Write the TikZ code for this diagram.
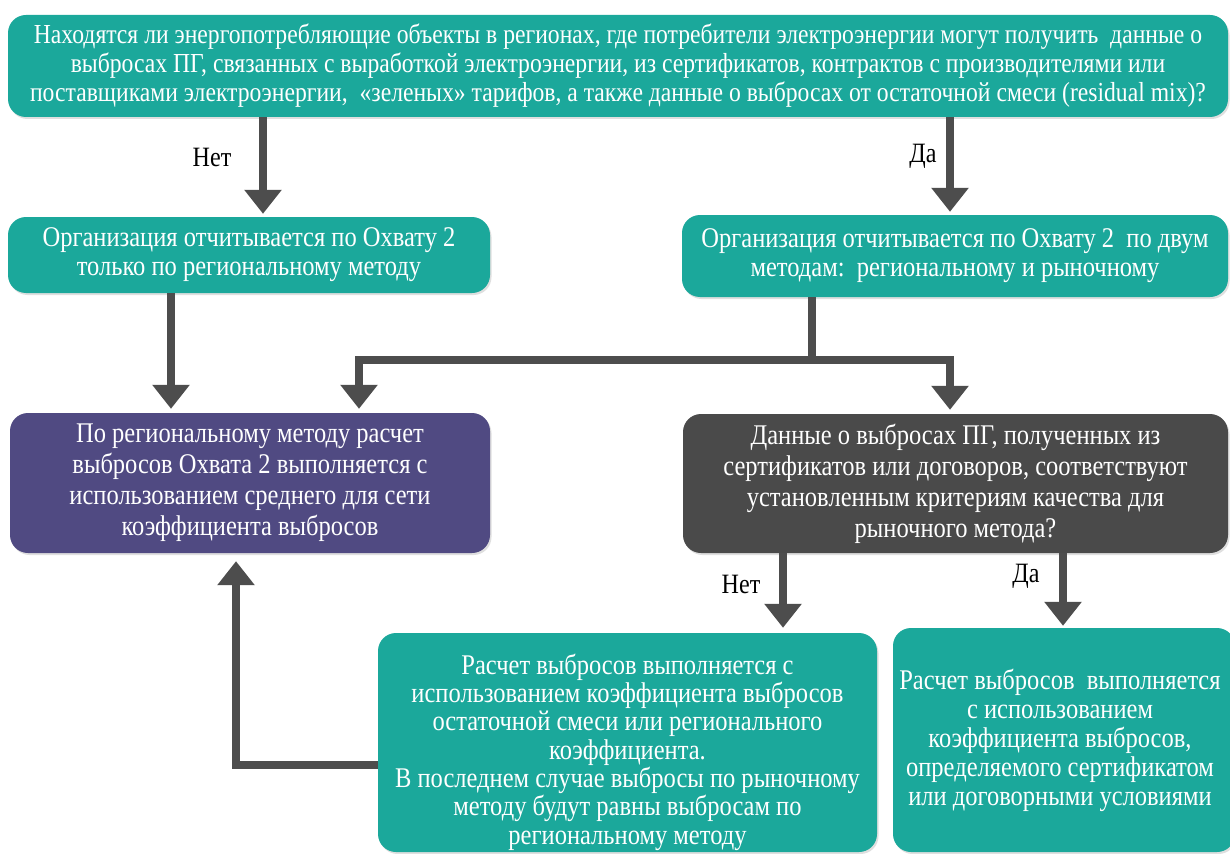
\documentclass[tikz,border=0pt]{standalone}
\usepackage{fontspec}
\setmainfont{Liberation Serif}[FakeStretch=0.86]
\usetikzlibrary{arrows.meta,shadows,calc}
\definecolor{teal1}{RGB}{27,168,155}
\definecolor{purp}{RGB}{80,74,130}
\definecolor{dgrey}{RGB}{74,74,74}
\definecolor{arrc}{RGB}{77,77,77}
\begin{document}
\begin{tikzpicture}[x=1pt,y=-1pt,
  box/.style={rectangle, rounded corners=18pt, draw=none, text=white, align=center,
    font=\fontsize{28.5}{29}\selectfont, inner sep=0pt,
    drop shadow={opacity=0.25, shadow xshift=1.5pt, shadow yshift=-2pt}},
  tbox/.style={box, fill=teal1},
  txt/.style={text=white, align=center, font=\fontsize{28.5}{29}\selectfont, inner sep=0pt},
  lbl/.style={text=black, font=\fontsize{28}{29}\selectfont, inner sep=0pt},
  conn/.style={draw=arrc, line width=8pt, line join=miter},
  arr/.style={conn, -{Triangle[width=36pt,length=24pt]}}
]
\useasboundingbox (0,0) rectangle (1230,853);
\fill[white] (0,0) rectangle (1230,853);
\clip (0,0) rectangle (1230,853);

% boxes
\node[tbox, minimum width=1220pt, minimum height=102pt,
      font=\fontsize{27.5}{29}\selectfont] (top) at (618,66)
  {Находятся ли энергопотребляющие объекты в регионах, где потребители электроэнергии могут получить\ \ данные о\\
   выбросах ПГ, связанных с выработкой электроэнергии, из сертификатов, контрактов с производителями или\\
   поставщиками электроэнергии,\ \ «зеленых» тарифов, а также данные о выбросах от остаточной смеси (residual mix)?};

\node[tbox, minimum width=482pt, minimum height=76pt] (b2l) at (249,255)
  {Организация отчитывается по Охвату 2\\только по региональному методу};

\node[tbox, minimum width=546pt, minimum height=82pt] (b2r) at (955,256)
  {Организация отчитывается по Охвату 2\ \ по двум\\методам:\ \ региональному и рыночному};

\node[box, fill=purp, minimum width=480pt, minimum height=140pt,
      font=\fontsize{28.5}{31}\selectfont] (reg) at (250,483)
  {По региональному методу расчет\\выбросов Охвата 2 выполняется с\\использованием среднего для сети\\коэффициента выбросов};

\node[box, fill=dgrey, minimum width=545pt, minimum height=139pt,
      font=\fontsize{28.5}{31}\selectfont] (q2) at (955.5,483.5)
  {Данные о выбросах ПГ, полученных из\\сертификатов или договоров, соответствуют\\установленным критериям качества для\\рыночного метода?};

\node[tbox, minimum width=499pt, minimum height=219pt] (bm) at (627.5,742.5) {};
\node[txt, font=\fontsize{28.5}{28.3}\selectfont] (bmt) at (627.5,752)
  {Расчет выбросов выполняется с\\использованием коэффициента выбросов\\остаточной смеси или регионального\\коэффициента.\\В последнем случае выбросы по рыночному\\методу будут равны выбросам по\\региональному методу};

\node[tbox, minimum width=342pt, minimum height=224pt] (br) at (1064,740) {};
\node[txt] (brt) at (1060,740)
  {Расчет выбросов\ \ выполняется\\с использованием\\коэффициента выбросов,\\определяемого сертификатом\\или договорными условиями};

% helper coordinates
\coordinate (xA) at (263,0);
\coordinate (xB) at (950,0);
\coordinate (xC) at (171,0);
\coordinate (split) at (812,360);
\coordinate (xD) at (359,0);
\coordinate (xE) at (783,0);
\coordinate (xF) at (1063,0);
\coordinate (yR) at (0,765);
\coordinate (xR) at (236,0);

% connectors
\draw[arr, shorten >=3pt] (xA |- top.south) -- (xA |- b2l.north);
\draw[arr, shorten >=3pt] (xB |- top.south) -- (xB |- b2r.north);
\draw[arr, shorten >=4pt] (xC |- b2l.south) -- (xC |- reg.north);
\draw[conn] (split |- b2r.south) -- (split);
\draw[arr, shorten >=4pt] (split) -| (xD |- reg.north);
\draw[arr, shorten >=4pt] (split) -| (xB |- q2.north);
\draw[arr, shorten >=5pt] (xE |- q2.south) -- (xE |- bm.north);
\draw[arr, shorten >=2pt] (xF |- q2.south) -- (xF |- br.north);
\draw[arr, shorten >=8pt] (bm.west |- yR) -| (xR |- reg.south);

% labels
\node[lbl] (l1) at (212,157) {Нет};
\node[lbl] (l2) at (923,156) {Да};
\node[lbl] (l3) at (741,584) {Нет};
\node[lbl] (l4) at (1026,576) {Да};
\end{tikzpicture}
\end{document}
